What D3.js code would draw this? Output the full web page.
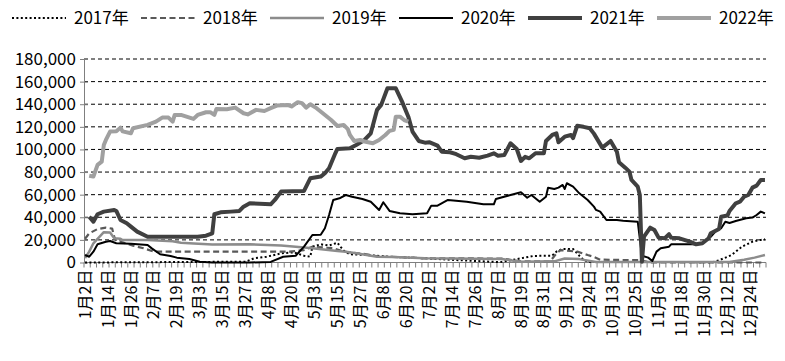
<!DOCTYPE html>
<html><head><meta charset="utf-8">
<script src="https://cdn.jsdelivr.net/npm/d3@7/dist/d3.min.js"></script>
<style>
body{margin:0;background:#fff}
svg text{font-family:"Noto Sans CJK SC","Noto Sans",sans-serif;fill:#000}
</style>
</head><body>
<svg id="chart" width="785" height="361"></svg>
<script>
// ---------- DATA ----------
const xLabels = ["1月2日","1月14日","1月26日","2月7日","2月19日","3月3日","3月15日","3月27日","4月8日","4月20日",
  "5月3日","5月15日","5月27日","6月8日","6月20日","7月2日","7月14日","7月26日","8月7日","8月19日",
  "8月31日","9月12日","9月24日","10月13日","10月25日","11月6日","11月18日","11月30日","12月12日","12月24日"];
const dayCount = 327;      // number of trading-day categories on the axis
const labelEvery = 11;     // a label every 11 categories
const tickEvery = 3;       // a tick mark every 3 categories
const yTicks = [0,20000,40000,60000,80000,100000,120000,140000,160000,180000];
const seriesNames = ["2017年","2018年","2019年","2020年","2021年","2022年"];

// [day index, value]
const s2017 = [[0,0],[77,700],[81,3700],[87,5100],[94,8100],[100,9000],[105,6000],[108,5100],[109,14000],[113,16100],
  [117,15000],[121,17500],[124,10500],[127,7300],[135,6600],[146,5100],[163,3700],[180,2000],[199,300],[209,3700],
  [215,5800],[224,6000],[226,9600],[229,12000],[234,12000],[237,6000],[239,2200],[242,500],[301,300],[304,2000],
  [310,6600],[315,14000],[320,18400],[324,20000],[326,20500]];
const s2018 = [[0,21000],[2,25800],[6,29600],[10,30800],[13,30000],[14,22800],[15,19000],[18,17900],[23,14900],[28,12600],
  [33,9600],[79,9600],[98,9600],[105,11000],[109,14000],[119,12600],[124,9600],[135,7300],[141,5100],[146,5100],
  [163,3700],[200,3500],[209,1000],[223,1000],[226,8000],[228,11000],[236,9600],[241,6600],[244,5000],[247,2500],
  [266,2000],[271,0],[326,0]];
const s2019 = [[0,4000],[2,9600],[4,17000],[7,22800],[9,26800],[12,26500],[14,21400],[17,21000],[18,19900],[30,19900],
  [42,18800],[46,17500],[50,17000],[61,16000],[79,16100],[94,15000],[101,14000],[109,12500],[121,10200],[125,9600],
  [130,8100],[140,5100],[148,4800],[163,3700],[200,3000],[209,700],[225,1000],[230,3500],[237,3000],[245,500],
  [309,500],[316,2500],[321,4300],[326,6600]];
const s2020 = [[0,6600],[2,5100],[4,9600],[6,16100],[10,18400],[12,19000],[15,17000],[22,16500],[30,15500],[32,12500],
  [36,7300],[41,5800],[44,4300],[50,3100],[55,700],[61,0],[79,0],[89,500],[95,5100],[101,6000],
  [105,14000],[109,24300],[113,24500],[115,30300],[117,42000],[119,55300],[122,56800],[125,59700],[128,58200],[133,56200],
  [137,53800],[141,46500],[143,53300],[146,45600],[151,43500],[157,42700],[164,43500],[166,50300],[169,50300],[174,55300],
  [183,53800],[191,51500],[196,51500],[197,56200],[204,59700],[209,62100],[212,57300],[214,59700],[218,53800],[221,58200],
  [222,66200],[225,65000],[227,66200],[229,68600],[230,65000],[231,70100],[234,67100],[237,61200],[241,55300],[244,49400],
  [245,46500],[247,45000],[250,37600],[255,37600],[258,37000],[265,36100],[267,6000],[270,4300],[272,1300],[274,9600],
  [276,12600],[280,14000],[281,16100],[292,16100],[296,17000],[300,22800],[303,28800],[305,30300],[307,36100],[309,35000],
  [312,36700],[317,39100],[320,39700],[322,42000],[324,45000],[326,43500]];
const s2021 = [[2,40500],[4,36100],[6,42700],[9,45000],[14,46500],[15,45600],[17,37600],[20,34700],[22,31700],[25,27300],
  [30,22800],[54,22800],[58,23700],[61,25800],[62,42700],[65,44400],[70,45000],[74,45600],[76,49400],[79,52400],
  [89,51500],[91,55300],[94,62700],[105,63300],[108,74500],[113,76000],[115,79000],[117,83400],[120,96600],[121,100400],
  [127,101000],[130,104000],[134,108400],[137,114300],[140,135000],[142,139400],[145,154100],[149,154100],[152,142300],[155,129000],
  [157,115800],[160,107500],[163,106000],[165,106400],[169,103400],[171,98000],[175,97500],[178,95800],[182,92200],[185,93500],
  [189,92700],[193,94500],[196,96600],[198,94500],[201,95000],[204,105500],[207,100400],[209,89800],[211,93500],[213,92200],
  [216,96600],[220,96600],[221,107500],[224,112800],[226,114300],[227,106400],[230,111300],[233,112800],[234,110000],[236,121000],
  [239,120000],[242,118700],[244,114000],[248,101600],[252,107500],[255,98000],[256,88700],[259,83900],[261,80400],[262,73000],
  [265,67100],[266,59700],[267,700],[268,22800],[271,30800],[273,28800],[275,22000],[278,21400],[280,25000],[281,22000],
  [285,21400],[290,18400],[293,16100],[296,17000],[299,21400],[300,25800],[304,29600],[305,40500],[308,41500],[309,45600],
  [312,52400],[314,53800],[316,58200],[318,59700],[320,66200],[322,68000],[324,73000],[326,73000]];
const s2022 = [[2,76800],[4,76000],[6,86300],[8,89200],[9,104000],[10,108400],[12,115800],[15,116000],[17,119300],[18,116000],
  [22,114300],[23,118800],[30,121700],[34,124600],[37,128200],[40,128200],[42,124600],[43,130500],[46,130500],[52,127000],
  [54,130500],[58,132900],[60,133000],[62,130500],[63,135800],[68,135500],[72,137000],[76,132000],[78,131000],[82,135000],
  [86,134000],[89,136500],[92,138800],[97,139400],[99,138000],[102,141800],[104,141000],[106,137000],[108,140000],[111,136500],
  [114,132000],[118,126000],[121,120800],[124,121700],[126,118000],[127,112800],[129,107500],[132,108400],[134,107000],[138,105500],
  [141,108400],[144,112800],[146,116400],[148,117300],[149,129000],[151,129000],[153,126000],[155,124600]];

const allSeries = [s2017,s2018,s2019,s2020,s2021,s2022];

// ---------- STYLE ----------
const styles = [
  {color:"#000000", width:2,   dash:"2,2.4", cap:"butt"},
  {color:"#595959", width:2.2, dash:"6,3.5", cap:"butt"},
  {color:"#8c8c8c", width:2.5, dash:null,    cap:"butt"},
  {color:"#000000", width:2,   dash:null,    cap:"butt"},
  {color:"#404040", width:4,   dash:null,    cap:"butt"},
  {color:"#a0a0a0", width:4,   dash:null,    cap:"butt"}
];

(function draw() {
const svg = d3.select("#chart");
const pLeft = 84, pRight = 766, pTop = 59, pBottom = 262.5;

const x = d3.scaleLinear().domain([0, dayCount]).range([pLeft, pRight]);
const pos = i => x(i + 0.5);
const y = d3.scaleLinear().domain([0, 180000]).range([pBottom, pTop]);

// gridlines
svg.append("g").selectAll("line").data(yTicks.filter(d => d > 0)).join("line")
  .attr("x1", pLeft).attr("x2", pRight)
  .attr("y1", d => y(d)).attr("y2", d => y(d))
  .attr("stroke", "#000").attr("stroke-width", 1).attr("stroke-dasharray", "4,3");

// y axis
const yAxis = svg.append("g").attr("transform", `translate(${pLeft},0)`)
  .call(d3.axisLeft(y).tickValues(yTicks).tickFormat(d3.format(",")).tickSizeInner(4).tickSizeOuter(0).tickPadding(8));
yAxis.select(".domain").attr("stroke", "#7f7f7f");
yAxis.selectAll(".tick line").attr("stroke", "#7f7f7f").attr("x2", 4).attr("x1", -4);
yAxis.selectAll(".tick text").attr("font-size", 17).attr("x", -8).style("font-family", '"Noto Sans CJK SC","Noto Sans",sans-serif');

// x axis
const xg = svg.append("g");
xg.append("line").attr("x1", pLeft).attr("x2", pRight).attr("y1", pBottom).attr("y2", pBottom)
  .attr("stroke", "#7f7f7f").attr("stroke-width", 1);
xg.selectAll("line.tk").data(d3.range(0, dayCount + 1, tickEvery)).join("line").attr("class","tk")
  .attr("x1", d => x(d)).attr("x2", d => x(d)).attr("y1", pBottom).attr("y2", pBottom + 5)
  .attr("stroke", "#7f7f7f").attr("stroke-width", 1);
xg.selectAll("text").data(xLabels).join("text")
  .attr("transform", (d, i) => `translate(${pos(i * labelEvery)},${pBottom + 7}) rotate(-90)`)
  .attr("text-anchor", "end").attr("dy", "0.35em").attr("font-size", 16)
  .text(d => d);

// lines
const line = d3.line().x(d => pos(d[0])).y(d => y(d[1]));
svg.append("g").selectAll("path").data(allSeries).join("path")
  .attr("d", d => line(d))
  .attr("fill", "none")
  .attr("stroke", (d, i) => styles[i].color)
  .attr("stroke-width", (d, i) => styles[i].width)
  .attr("stroke-dasharray", (d, i) => styles[i].dash)
  .attr("stroke-linecap", (d, i) => styles[i].cap)
  .attr("stroke-linejoin", "round");

// legend
const lg = svg.append("g").selectAll("g").data(seriesNames).join("g")
  .attr("transform", (d, i) => `translate(${12 + i * 129},18)`);
lg.append("line").attr("x1", 0).attr("x2", 54).attr("y1", 0).attr("y2", 0)
  .attr("stroke", (d, i) => styles[i].color)
  .attr("stroke-width", (d, i) => styles[i].width)
  .attr("stroke-dasharray", (d, i) => styles[i].dash)
  .attr("stroke-linecap", (d, i) => styles[i].cap);
lg.append("text").attr("x", 62).attr("dy", "0.35em").attr("font-size", 17).text(d => d);
})();
</script>
</body></html>
